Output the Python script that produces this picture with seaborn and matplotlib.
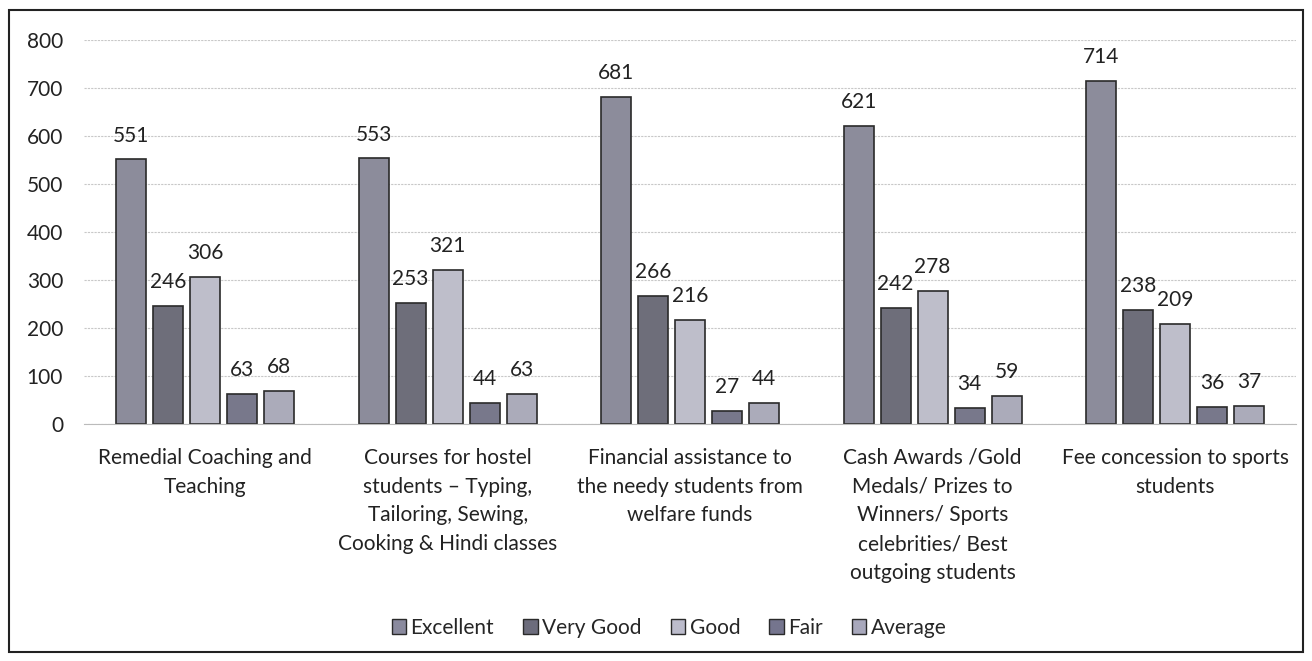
import pandas as pd
import seaborn as sns
import matplotlib
matplotlib.use('Agg')
import matplotlib.pyplot as plt
from matplotlib.patches import Rectangle, Patch

# --- Data ---
categories = [
    "Remedial Coaching and\nTeaching",
    "Courses for hostel\nstudents \u2013 Typing,\nTailoring, Sewing,\nCooking & Hindi classes",
    "Financial assistance to\nthe needy students from\nwelfare funds",
    "Cash Awards /Gold\nMedals/ Prizes to\nWinners/ Sports\ncelebrities/ Best\noutgoing students",
    "Fee concession to sports\nstudents",
]
ratings = ["Excellent", "Very Good", "Good", "Fair", "Average"]
excellent = [551, 553, 681, 621, 714]
very_good = [246, 253, 266, 242, 238]
good = [306, 321, 216, 278, 209]
fair = [63, 44, 27, 34, 36]
average = [68, 63, 44, 59, 37]

colors = ["#8a8a9e", "#6c6c7c", "#bcbccc", "#75758e", "#a8a8bc"]

rows = []
for rating, vals in zip(ratings, [excellent, very_good, good, fair, average]):
    for cat, v in zip(categories, vals):
        rows.append({"category": cat, "rating": rating, "value": v})
df = pd.DataFrame(rows)

sns.set_style("white")
plt.rcParams['font.family'] = ['Lato', 'DejaVu Sans']
FS = 15

fig = plt.figure(figsize=(13.12, 6.61), dpi=100)
ax = fig.add_axes([0.064, 0.3586, 0.924, 0.581])

sns.barplot(data=df, x="category", y="value", hue="rating", order=categories,
            hue_order=ratings, palette=colors, width=0.763, gap=0.19,
            edgecolor="#2a2a2a", linewidth=1.2, ax=ax, legend=False)

for c in ax.containers:
    ax.bar_label(c, padding=10, fontsize=FS, color="#222222")

ax.set_ylim(0, 800)
ax.set_yticks(range(0, 801, 100))
ax.set_xlim(-0.5, 4.5)
ax.yaxis.grid(True, color="#c8c8c8", linestyle=(0, (2, 1)), linewidth=0.8)
ax.set_axisbelow(True)
for s in ["top", "right", "left"]:
    ax.spines[s].set_visible(False)
ax.spines["bottom"].set_color("#bbbbbb")
ax.tick_params(axis="y", labelsize=FS, length=0, pad=15, colors="#222222")
ax.tick_params(axis="x", labelsize=FS, length=0, pad=17, colors="#222222")
for lbl in ax.get_xticklabels():
    lbl.set_linespacing(1.56)
ax.set_xlabel("")
ax.set_ylabel("")

handles = [Patch(facecolor=c, edgecolor="#2a2a2a", label=r) for c, r in zip(colors, ratings)]
fig.legend(handles=handles, loc="center", bbox_to_anchor=(0.51, 0.05), ncol=5,
           frameon=False, fontsize=FS, handlelength=0.7, handleheight=0.7,
           handletextpad=0.2, columnspacing=1.4)

# outer frame
fig.patches.append(Rectangle((0.007, 0.013), 0.986, 0.972, transform=fig.transFigure,
                             fill=False, edgecolor="#222222", linewidth=1.5))

fig.savefig("out.png", dpi=100)
